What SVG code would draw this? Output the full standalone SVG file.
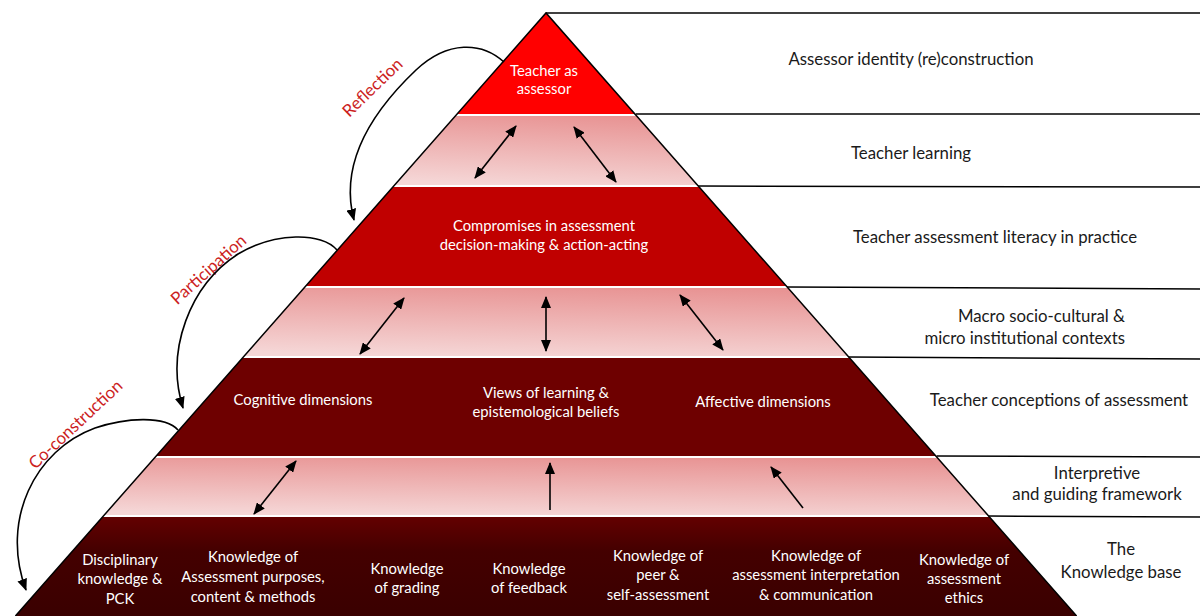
<svg xmlns="http://www.w3.org/2000/svg" width="1200" height="616" viewBox="0 0 1200 616">
  <defs>
    <linearGradient id="pinkBand" x1="0.6" y1="0" x2="0.4" y2="1">
      <stop offset="0" stop-color="#E89494"/>
      <stop offset="1" stop-color="#F5D6D6"/>
    </linearGradient>
    <linearGradient id="baseBand" x1="0" y1="0" x2="0" y2="1">
      <stop offset="0" stop-color="#640000"/>
      <stop offset="0.35" stop-color="#440000"/>
      <stop offset="1" stop-color="#3A0000"/>
    </linearGradient>
    <marker id="head" viewBox="0 0 12 10" refX="11" refY="5" markerWidth="12" markerHeight="10" markerUnits="userSpaceOnUse" orient="auto-start-reverse">
      <path d="M0,0 L12,5 L0,10 Z" fill="#000"/>
    </marker>
    <style>
      .side { font-family: Lato, "Liberation Sans", sans-serif; font-size: 16.8px; fill: #1a1a1a; }
      .inner { font-family: Lato, "Liberation Sans", sans-serif; font-size: 14.8px; fill: #ffffff; text-anchor: middle; }
      .phase { font-family: Lato, "Liberation Sans", sans-serif; font-size: 17px; fill: #CC1F1F; text-anchor: middle; }
      .rule { stroke: #000; stroke-width: 1.5; fill: none; }
      .sep { stroke: #ffffff; stroke-width: 2; }
      .link { stroke: #000; stroke-width: 1.6; fill: none; }
      .two { marker-start: url(#head); marker-end: url(#head); }
      .one { marker-end: url(#head); }
    </style>
  </defs>

  <rect width="1200" height="616" fill="#ffffff"/>

  <!-- pyramid tiers, top to bottom -->
  <g id="tier-assessor">
    <polygon points="546,13 635.8,115 456.2,115" fill="#FF0000"/>
    <text class="inner" x="544" y="76">Teacher as</text>
    <text class="inner" x="544" y="94">assessor</text>
  </g>
  <g id="tier-learning">
    <polygon points="456.2,115 635.8,115 698.2,186 393.8,186" fill="url(#pinkBand)"/>
  </g>
  <g id="tier-practice">
    <polygon points="393.8,186 698.2,186 787.1,287 304.9,287" fill="#C00000"/>
    <text class="inner" x="544" y="231">Compromises in assessment</text>
    <text class="inner" x="544" y="250">decision-making &amp; action-acting</text>
  </g>
  <g id="tier-contexts">
    <polygon points="304.9,287 787.1,287 848.7,357 243.3,357" fill="url(#pinkBand)"/>
  </g>
  <g id="tier-conceptions">
    <polygon points="243.3,357 848.7,357 936.7,457 155.3,457" fill="#6E0000"/>
    <text class="inner" x="303" y="405">Cognitive dimensions</text>
    <text class="inner" x="546" y="398">Views of learning &amp;</text>
    <text class="inner" x="546" y="417">epistemological beliefs</text>
    <text class="inner" x="763" y="407">Affective dimensions</text>
  </g>
  <g id="tier-framework">
    <polygon points="155.3,457 936.7,457 988.6,516 103.4,516" fill="url(#pinkBand)"/>
  </g>
  <g id="tier-knowledge-base">
    <polygon points="103.4,516 988.6,516 1076.6,616 15.4,616" fill="url(#baseBand)"/>
    <text class="inner" x="120" y="565">Disciplinary</text>
    <text class="inner" x="120" y="584">knowledge &amp;</text>
    <text class="inner" x="120" y="604">PCK</text>
    <text class="inner" x="253" y="562">Knowledge of</text>
    <text class="inner" x="253" y="582">Assessment purposes,</text>
    <text class="inner" x="253" y="602">content &amp; methods</text>
    <text class="inner" x="407" y="574">Knowledge</text>
    <text class="inner" x="407" y="593">of grading</text>
    <text class="inner" x="529" y="574">Knowledge</text>
    <text class="inner" x="529" y="593">of feedback</text>
    <text class="inner" x="658" y="561">Knowledge of</text>
    <text class="inner" x="658" y="580">peer &amp;</text>
    <text class="inner" x="658" y="600">self-assessment</text>
    <text class="inner" x="816" y="561">Knowledge of</text>
    <text class="inner" x="816" y="580">assessment interpretation</text>
    <text class="inner" x="816" y="600">&amp; communication</text>
    <text class="inner" x="964" y="565">Knowledge of</text>
    <text class="inner" x="964" y="584">assessment</text>
    <text class="inner" x="964" y="603">ethics</text>
  </g>

  <!-- white gaps between tiers -->
  <g id="tier-gaps">
    <line class="sep" x1="456" y1="115" x2="636" y2="115"/>
    <line class="sep" x1="394" y1="186" x2="698" y2="186"/>
    <line class="sep" x1="305" y1="287" x2="787" y2="287"/>
    <line class="sep" x1="243" y1="357" x2="849" y2="357"/>
    <line class="sep" x1="155" y1="457" x2="937" y2="457"/>
    <line class="sep" x1="103" y1="516" x2="989" y2="516"/>
  </g>

  <!-- pyramid outline and label rules -->
  <g id="outline">
    <polyline class="rule" points="15.4,616 546,13 1076.6,616"/>
    <line class="rule" x1="546" y1="13" x2="1200" y2="13"/>
    <line class="rule" x1="635.8" y1="114" x2="1200" y2="114"/>
    <line class="rule" x1="698.2" y1="186" x2="1200" y2="187"/>
    <line class="rule" x1="787.1" y1="287" x2="1200" y2="289"/>
    <line class="rule" x1="848.7" y1="357" x2="1200" y2="359"/>
    <line class="rule" x1="936.7" y1="456" x2="1200" y2="457"/>
    <line class="rule" x1="988.6" y1="516" x2="1200" y2="517"/>
  </g>

  <!-- tier descriptions on the right -->
  <g id="labels">
    <text class="side" x="911" y="65" text-anchor="middle">Assessor identity (re)construction</text>
    <text class="side" x="911" y="159" text-anchor="middle">Teacher learning</text>
    <text class="side" x="995" y="243" text-anchor="middle">Teacher assessment literacy in practice</text>
    <text class="side" x="1125" y="322" text-anchor="end">Macro socio-cultural &amp;</text>
    <text class="side" x="1125" y="344" text-anchor="end">micro institutional contexts</text>
    <text class="side" x="1059" y="406" text-anchor="middle">Teacher conceptions of assessment</text>
    <text class="side" x="1097" y="479" text-anchor="middle">Interpretive</text>
    <text class="side" x="1097" y="500" text-anchor="middle">and guiding framework</text>
    <text class="side" x="1121" y="555" text-anchor="middle">The</text>
    <text class="side" x="1121" y="578" text-anchor="middle">Knowledge base</text>
  </g>

  <!-- process labels beside the loops -->
  <g id="phases">
    <text class="phase" transform="translate(373,88) rotate(-44)" y="5">Reflection</text>
    <text class="phase" transform="translate(209,270) rotate(-42)" y="5">Participation</text>
    <text class="phase" transform="translate(76,425) rotate(-43)" y="5">Co-construction</text>
  </g>

  <!-- connectors -->
  <g id="connectors">
    <path class="link one" d="M504,62 C482,42 448,40 416,70 C376,108 338,160 354,220"/>
    <path class="link one" d="M337,250 C322,232 275,232 238,254 C190,285 165,350 183,408"/>
    <path class="link one" d="M178,430 C165,415 125,418 95,428 C35,450 0,520 26,590"/>

    <line class="link two" x1="516" y1="126" x2="475" y2="178"/>
    <line class="link two" x1="574" y1="127" x2="616" y2="182"/>

    <line class="link two" x1="404" y1="298" x2="360" y2="354"/>
    <line class="link two" x1="546" y1="297" x2="546" y2="351"/>
    <line class="link two" x1="680" y1="295" x2="723" y2="350"/>

    <line class="link two" x1="296" y1="461" x2="254" y2="514"/>
    <line class="link one" x1="550" y1="510" x2="550" y2="463"/>
    <line class="link one" x1="803" y1="508" x2="771" y2="467"/>
  </g>
</svg>
